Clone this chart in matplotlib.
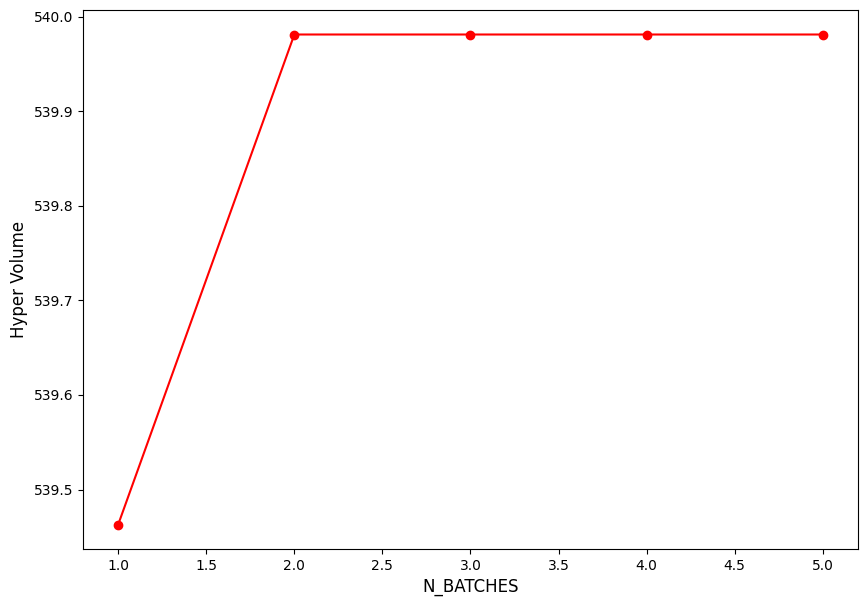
import matplotlib
matplotlib.use("Agg")
import matplotlib.pyplot as plt

# Données
n_batches = [1, 2, 3, 4, 5]
hyper_volume = [539.463, 539.981, 539.981, 539.981, 539.981]

fig = plt.figure(figsize=(8.67, 6.06), dpi=100)
ax = fig.add_axes([0.0957, 0.094, 0.8939, 0.8895])

ax.plot(n_batches, hyper_volume, color='red', marker='o')
ax.set_xlabel('N_BATCHES', fontsize=12)
ax.set_ylabel('Hyper Volume', fontsize=12)

fig.savefig("out.png", dpi=100)
